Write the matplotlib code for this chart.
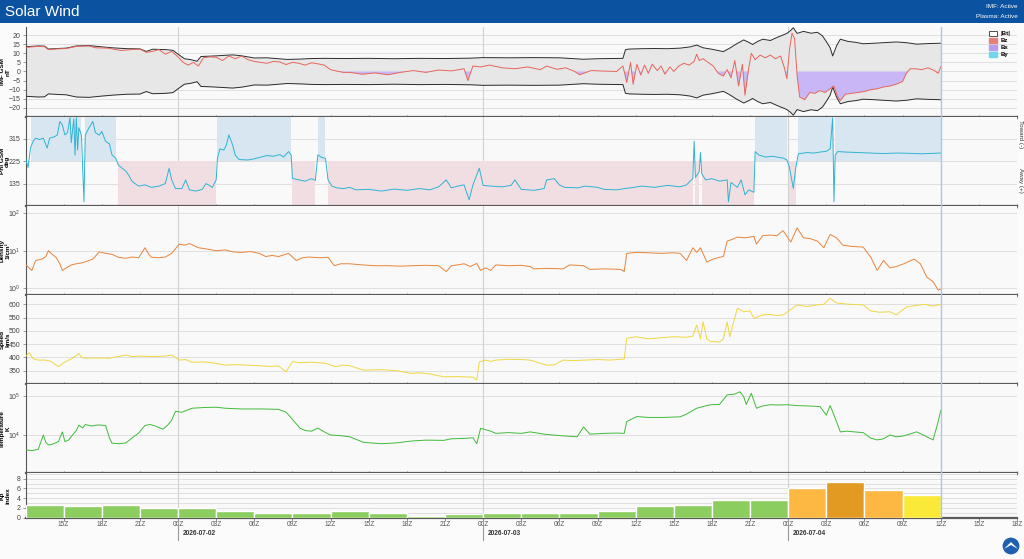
import numpy as np
import matplotlib
matplotlib.use("Agg")
import matplotlib.pyplot as plt
from matplotlib.patches import Patch, Rectangle, Circle, Polygon
from matplotlib.ticker import FixedLocator, NullLocator, LogFormatterMathtext
import matplotlib.transforms as mtransforms

plt.rcParams['font.family'] = ['Liberation Sans', 'DejaVu Sans']

# ---------------- data (hours since 2026-07-01 12Z) ----------------
bt_hours = [0.0, 1.0, 1.5, 1.8, 2.5, 3.2, 4.0, 5.0, 6.0, 7.0, 8.0, 9.0, 9.5, 10.0, 11.0, 11.6,
            12.0, 12.5, 13.0, 13.5, 13.8, 14.8, 16.3, 17.0, 18.0, 19.0, 20.6, 21.6, 22.5, 23.6,
            25.0, 27.0, 29.0, 31.0, 33.0, 35.0, 36.0, 38.0, 40.0, 42.0, 43.9, 45.0, 46.0, 47.0,
            47.2, 47.5, 48.5, 49.5, 50.5, 51.5, 52.3, 52.8, 53.3, 54.0, 54.9, 55.4, 55.9, 56.5,
            56.9, 57.2, 57.6, 58.0, 58.6, 59.1, 59.6, 59.9, 60.2, 60.4, 60.7, 61.2, 61.8, 62.3,
            62.7, 63.0, 63.3, 63.5, 63.8, 64.1, 64.7, 65.3, 65.9, 66.8, 67.5, 68.5, 69.3, 70.1,
            71.0, 72.0]
bt = [13.6, 14.0, 13.9, 12.3, 12.6, 12.8, 14.0, 14.2, 13.5, 12.9, 12.5, 12.4, 11.0, 12.2, 12.0, 11.6,
      9.5, 7.0, 6.5, 5.6, 8.2, 8.5, 9.1, 8.6, 7.4, 7.5, 6.6, 6.8, 7.1, 7.2,
      7.1, 7.2, 7.0, 7.2, 7.1, 7.3, 7.6, 7.5, 7.6, 7.5, 6.7, 7.0, 7.1, 7.2,
      12.0, 12.3, 12.5, 12.6, 12.5, 12.8, 13.5, 14.5, 13.0, 12.2, 10.9, 12.8, 15.0, 17.3,
      16.0, 14.8, 16.5, 17.7, 17.0, 18.6, 20.0, 20.9, 22.5, 24.0, 20.9, 22.0, 21.0, 21.5,
      19.5, 16.4, 13.0, 8.5, 14.0, 17.7, 16.5, 16.0, 15.2, 15.5, 15.8, 16.2, 15.8, 15.0,
      15.3, 15.5]

bz_hours = [0.0, 0.5, 1.0, 1.5, 1.8, 2.5, 3.2, 4.0, 5.0, 5.5, 6.5, 7.5, 8.5, 9.0, 9.5, 10.0,
            10.5, 11.0, 11.5, 12.0, 12.4, 12.8, 13.2, 13.6, 14.0, 14.5, 15.0, 15.5, 16.0, 16.5,
            17.0, 17.5, 18.0, 18.5, 19.0, 19.5, 20.0, 20.5, 21.0, 21.5, 22.0, 22.5, 23.0, 23.5,
            24.0, 24.5, 25.0, 25.5, 26.5, 27.5, 28.5, 29.5, 30.5, 31.5, 32.5, 33.5, 34.5, 34.8,
            35.2, 35.8, 36.5, 37.5, 38.5, 39.5, 40.5, 41.0, 41.8, 42.5, 43.2, 43.6, 44.5, 45.5,
            46.5, 47.0, 47.3, 47.6, 47.8, 48.1, 48.4, 48.7, 49.0, 49.3, 49.7, 50.0, 50.3, 50.7,
            51.0, 51.4, 51.8, 52.2, 52.6, 52.8, 53.0, 53.3, 53.7, 54.1, 54.5, 54.9, 55.2, 55.5,
            55.8, 56.1, 56.4, 56.6, 56.9, 57.1, 57.4, 57.8, 58.2, 58.6, 59.0, 59.4, 59.7, 59.9,
            60.1, 60.3, 60.5, 60.7, 60.9, 61.3, 61.7, 62.1, 62.5, 62.9, 63.3, 63.6, 63.9, 64.1,
            64.5, 65.0, 65.5, 66.0, 66.5, 67.0, 67.5, 68.0, 68.5, 69.0, 69.3, 69.6, 70.0, 70.5,
            71.0, 71.5, 71.8, 72.0]
bz = [13.2, 13.5, 13.8, 13.6, 12.0, 12.4, 12.6, 13.8, 14.0, 13.0, 12.8, 11.5, 12.1, 12.3, 10.5, 11.0,
      12.0, 9.5, 11.0, 8.0, 5.0, 3.5, 5.0, 3.0, 7.5, 8.0, 7.8, 6.0, 8.5, 7.0,
      8.5, 6.5, 5.5, 5.0, 4.5, 5.5, 5.2, 3.8, 5.0, 4.5, 3.5, 4.8, 4.2, 3.5,
      1.0, 0.2, -0.5, -0.5, -1.5, -0.8, -1.8, -0.5, 0.5, -0.5, 0.8, 0.3, 1.5, -5.0,
      3.0, 2.5, 3.5, 2.0, 1.5, 2.5, 1.0, 3.0, 1.2, 2.0, 0.0, -1.8, 0.5, 0.2,
      0.0, 3.0, -6.0, 5.0, -7.0, 4.0, -2.0, 3.5, -1.0, 4.0, 0.5, 3.0, -1.5, 2.5,
      0.0, 3.0, 4.5, 3.5, 5.5, 9.5, 6.0, 7.0, 5.0, 3.0, -1.0, -2.5, 1.0, -3.5,
      6.0, -8.0, 4.0, -13.0, 2.0, 10.0, 6.5, 9.0, 7.5, 9.0, 7.0, 8.5, 2.0, -4.0,
      12.0, 21.0, 18.0, -2.0, -14.0, -15.5, -11.5, -12.0, -10.5, -11.5, -9.5, -8.0, -14.0, -16.0,
      -12.5, -12.0, -11.5, -11.0, -10.0, -9.5, -8.5, -8.0, -7.0, -5.5, -1.0, 1.5, 1.5, 1.0,
      2.0, 0.5, -1.0, 2.5]

phi_hours = [0.0, 0.2, 0.4, 0.6, 0.8, 1.1, 1.4, 1.7, 1.9, 2.2, 2.5, 2.7, 2.9, 3.1, 3.3, 3.5,
             3.6, 3.8, 3.9, 4.0, 4.1, 4.2, 4.4, 4.6, 4.7, 5.0, 5.3, 5.5, 5.8, 6.0, 6.3, 6.6,
             6.8, 7.1, 7.3, 7.6, 7.9, 8.1, 8.4, 8.9, 9.4, 9.9, 10.5, 11.0, 11.3, 11.5, 11.8, 12.3,
             12.6, 12.9, 13.4, 13.9, 14.2, 14.4, 14.7, 15.0, 15.1, 15.3, 15.6, 15.8, 16.0, 16.3,
             16.5, 16.8, 17.5, 18.0, 18.4, 19.0, 19.5, 20.0, 20.3, 20.7, 20.9, 21.0, 21.5, 22.0,
             22.5, 22.8, 23.0, 23.3, 23.6, 23.8, 24.1, 24.5, 25.0, 25.5, 26.0, 27.0, 28.0, 29.0,
             30.0, 31.0, 31.8, 32.5, 33.1, 33.5, 34.0, 34.5, 34.9, 35.2, 35.7, 36.0, 36.6, 37.5,
             38.2, 38.5, 39.0, 40.0, 40.8, 41.0, 41.6, 42.0, 42.4, 43.5, 44.0, 45.0, 45.5, 46.5,
             47.1, 47.6, 48.5, 49.5, 50.5, 51.5, 52.0, 52.5, 52.6, 52.7, 53.0, 53.1, 53.2, 53.5,
             54.0, 54.6, 55.2, 55.3, 55.5, 56.0, 56.3, 56.6, 56.9, 57.3, 57.4, 57.7, 58.2, 58.8,
             59.3, 59.6, 59.9, 60.1, 60.4, 60.6, 60.8, 61.5, 62.0, 62.5, 63.0, 63.3, 63.5, 63.6,
             63.7, 63.9, 64.5, 65.5, 66.5, 67.5, 68.5, 69.5, 70.5, 71.5, 72.0]
phi = [237, 200, 280, 305, 318, 312, 318, 278, 318, 322, 330, 385, 371, 331, 340, 400,
       300, 395, 250, 400, 270, 360, 330, 62, 330, 360, 385, 340, 330, 345, 305, 295,
       251, 237, 210, 197, 185, 170, 143, 125, 130, 120, 125, 135, 197, 150, 115, 115,
       150, 110, 105, 112, 135, 130, 120, 150, 237, 275, 270, 290, 331, 290,
       250, 232, 230, 235, 240, 248, 245, 252, 242, 264, 250, 156, 150, 145,
       155, 148, 251, 240, 237, 150, 125, 118, 115, 120, 110, 112, 105, 113,
       108, 115, 110, 122, 150, 118, 125, 130, 70, 130, 197, 128, 125, 122,
       128, 150, 112, 108, 115, 150, 155, 130, 120, 118, 125, 120, 112, 110,
       115, 118, 125, 120, 128, 122, 130, 156, 305, 160, 183, 260, 175, 150,
       155, 145, 150, 62, 140, 120, 150, 90, 110, 100, 264, 250, 242, 245,
       240, 238, 230, 200, 116, 200, 255, 260, 258, 262, 265, 275, 400, 62,
       250, 264, 262, 260, 258, 256, 258, 257, 255, 257, 258]

dens_hours = [0.0, 0.5, 0.8, 1.3, 1.6, 1.8, 2.1, 2.4, 2.7, 2.9, 3.2, 3.6, 4.0, 4.5, 5.0, 5.3,
              5.8, 6.3, 6.8, 7.3, 7.9, 8.4, 8.9, 9.4, 9.7, 9.9, 10.5, 11.0, 11.5, 12.1, 12.5, 12.9,
              13.6, 14.3, 15.0, 15.7, 16.3, 17.0, 17.7, 18.4, 18.9, 19.4, 19.9, 20.7, 21.3, 21.8,
              22.3, 23.1, 23.8, 24.3, 24.8, 25.5, 26.5, 27.5, 28.5, 29.5, 30.5, 31.5, 32.5, 33.1,
              33.5, 34.0, 34.5, 35.0, 35.5, 35.8, 36.2, 36.6, 37.0, 38.0, 39.0, 39.7, 40.0, 41.0,
              42.3, 42.8, 43.9, 44.4, 45.5, 46.8, 47.1, 47.3, 48.0, 49.0, 50.0, 51.0, 51.5, 52.0,
              52.5, 52.8, 53.1, 53.3, 53.6, 54.1, 54.6, 54.9, 55.2, 55.6, 56.0, 56.6, 57.3, 57.5,
              58.0, 58.6, 59.1, 59.6, 60.2, 60.7, 61.2, 61.7, 62.3, 62.8, 63.3, 63.8, 64.3, 65.0,
              65.9, 66.5, 67.0, 67.5, 68.0, 68.5, 69.1, 69.9, 70.4, 70.9, 71.4, 71.8, 72.0]
dens = [4.3, 3.0, 5.5, 6.0, 7.0, 10.0, 8.0, 6.7, 4.5, 3.0, 3.5, 4.2, 4.5, 4.8, 5.5, 6.0,
        9.3, 8.5, 8.0, 6.7, 6.3, 6.8, 6.5, 12.0, 8.0, 6.7, 6.5, 6.8, 8.5, 15.0, 14.0, 15.5,
        12.0, 11.0, 10.0, 10.5, 9.3, 9.0, 9.5, 8.5, 7.0, 7.5, 7.0, 8.5, 5.5, 6.5,
        6.8, 6.5, 6.7, 4.0, 4.5, 4.5, 4.2, 4.0, 4.0, 3.9, 4.0, 4.1, 4.0, 2.8,
        4.0, 4.2, 4.5, 3.8, 4.6, 3.0, 3.5, 3.0, 4.2, 4.0, 4.1, 3.8, 3.3, 3.4,
        3.3, 4.2, 4.0, 3.2, 3.3, 3.2, 2.8, 8.5, 9.0, 8.8, 8.5, 8.8, 8.5, 5.5,
        12.0, 9.0, 12.0, 8.5, 5.0, 6.0, 6.7, 7.0, 18.0, 20.0, 23.0, 22.0, 24.0, 15.0,
        25.0, 26.0, 25.0, 34.0, 17.0, 40.0, 22.0, 21.0, 18.0, 12.0, 27.0, 22.0, 14.0, 13.0,
        12.5, 6.7, 3.0, 5.5, 3.5, 3.8, 4.5, 6.0, 4.5, 2.0, 1.5, 0.9, 0.95]

spd_hours = [0.0, 0.3, 0.6, 1.0, 1.6, 2.0, 2.6, 3.0, 3.7, 4.2, 4.4, 4.7, 5.5, 6.6, 7.9, 8.4,
             9.0, 10.0, 11.0, 11.5, 12.1, 12.6, 13.1, 14.0, 14.7, 15.7, 16.5, 17.8, 18.4, 19.2,
             19.9, 20.5, 21.0, 21.6, 22.5, 23.6, 24.4, 25.0, 25.5, 26.6, 28.0, 29.2, 30.3, 31.0,
             31.8, 32.9, 34.0, 35.2, 35.5, 35.7, 36.2, 36.6, 37.0, 38.0, 39.0, 39.7, 40.5, 41.0,
             41.6, 42.3, 43.0, 44.0, 45.0, 46.0, 47.1, 47.3, 48.0, 49.0, 50.0, 51.0, 52.0, 52.5,
             52.8, 53.1, 53.3, 53.6, 53.9, 54.6, 54.9, 55.2, 55.4, 56.0, 56.5, 57.0, 57.3, 58.0,
             58.6, 59.1, 59.6, 60.2, 60.7, 61.5, 62.3, 62.8, 63.3, 63.8, 64.8, 65.9, 66.5, 67.2,
             68.0, 68.5, 69.3, 70.0, 70.7, 71.4, 72.0]
spd = [403, 418, 395, 390, 390, 385, 365, 380, 397, 415, 400, 397, 398, 397, 409, 403,
       405, 403, 405, 409, 390, 392, 382, 383, 380, 371, 373, 370, 369, 366,
       368, 346, 384, 380, 382, 378, 365, 371, 369, 352, 354, 350, 340, 342,
       338, 327, 328, 326, 315, 383, 390, 385, 390, 393, 392, 390, 378, 371,
       372, 390, 388, 390, 392, 390, 394, 472, 478, 470, 474, 478, 476, 480,
       522, 470, 534, 470, 460, 458, 470, 534, 478, 585, 572, 575, 547, 560,
       562, 558, 560, 580, 597, 592, 598, 600, 623, 605, 600, 598, 575, 570,
       572, 560, 590, 595, 600, 593, 600]

temp_hours = [0.0, 0.5, 1.0, 1.4, 1.6, 1.8, 2.1, 2.6, 2.9, 3.1, 3.4, 3.7, 4.0, 4.2, 4.5, 4.7,
              5.2, 5.7, 6.3, 6.6, 6.8, 7.4, 7.9, 8.4, 8.9, 9.4, 9.8, 10.2, 10.8, 11.2, 11.5, 11.8,
              12.3, 13.1, 14.0, 15.0, 15.7, 17.0, 18.5, 19.9, 20.5, 21.0, 21.6, 22.0, 22.5, 23.0,
              23.5, 24.0, 24.8, 25.5, 26.6, 28.0, 29.2, 30.3, 31.5, 32.9, 33.5, 34.5, 35.2, 35.5,
              35.8, 36.6, 37.0, 38.0, 39.0, 39.7, 40.8, 41.5, 42.3, 43.4, 43.9, 44.4, 45.5, 46.5,
              47.1, 47.3, 48.1, 49.0, 50.2, 51.5, 52.0, 52.8, 53.5, 53.9, 54.6, 55.2, 55.8, 56.2,
              56.5, 56.7, 57.1, 57.5, 58.0, 58.6, 59.3, 59.9, 60.7, 61.5, 62.5, 63.0, 63.3, 63.8,
              64.1, 64.6, 65.2, 65.9, 66.5, 67.0, 67.5, 68.0, 68.5, 69.1, 70.1, 70.5, 70.9, 71.4,
              71.8, 72.0]
temp = [4200, 4000, 4300, 10000, 6500, 5600, 5800, 6800, 12000, 6800, 7500, 10000, 13000, 17800, 15000, 18500,
        17000, 18000, 17500, 8500, 6200, 6000, 6300, 8500, 11200, 17500, 18500, 17000, 14000, 18000, 24000, 40000,
        38000, 48000, 50000, 51000, 48000, 46000, 46000, 45000, 38000, 25000, 14800, 13000, 12500, 15000,
        12000, 10000, 9600, 9000, 6500, 6000, 6300, 7000, 7400, 7300, 8000, 8200, 8500, 6000,
        14800, 12500, 11000, 11500, 11000, 12000, 10500, 10000, 9500, 9000, 16000, 10500, 11000, 11200,
        11000, 22000, 29500, 28000, 28000, 29000, 34000, 48000, 55000, 59000, 60000, 105000, 110000, 126000,
        95000, 60000, 115000, 48000, 55000, 59000, 58000, 59000, 56000, 55000, 53000, 32000, 56000, 22000,
        12000, 12500, 12000, 11500, 8300, 7500, 8000, 10000, 9000, 9500, 12000, 10500, 9000, 7500,
        22000, 42000]

kp_start_hours = [0, 3, 6, 9, 12, 15, 18, 21, 24, 27, 30, 33, 36, 39, 42, 45, 48, 51, 54, 57, 60, 63, 66, 69]
kp = [2.67, 2.33, 2.67, 2.0, 2.0, 1.33, 1.0, 1.0, 1.33, 1.0, 0.33, 0.67, 1.0, 1.0, 1.0, 1.33,
      2.33, 2.67, 3.67, 3.67, 6.0, 7.33, 5.67, 4.67]

tick_hours = list(range(3, 79, 3))
tick_labels = ["15Z", "18Z", "21Z", "00Z", "03Z", "06Z", "09Z", "12Z", "15Z", "18Z", "21Z",
               "00Z", "03Z", "06Z", "09Z", "12Z", "15Z", "18Z", "21Z",
               "00Z", "03Z", "06Z", "09Z", "12Z", "15Z", "18Z"]
date_hours = [12, 36, 60]
date_labels = ["2026-07-02", "2026-07-03", "2026-07-04"]
now_hour = 72

# ---------------- figure ----------------
W, H = 1024, 559
fig = plt.figure(figsize=(W / 100, H / 100), dpi=100, facecolor='#fbfbfb')

def frac_rect(top_px, bot_px):
    left = 25.5 / W
    width = 991.5 / W
    return [left, 1 - bot_px / H, width, (bot_px - top_px) / H]

panels_px = [(27, 116.5), (116.5, 206), (206, 295), (295, 384), (384, 473.3), (473.3, 517.5)]
axes = [fig.add_axes(frac_rect(*p)) for p in panels_px]

GRID = '#dadada'
for ax in axes:
    ax.set_facecolor('#f9f9f9')
    ax.set_xlim(0, 78)
    for s in ['top', 'right']:
        ax.spines[s].set_visible(False)
    ax.spines['left'].set_color('#555555')
    ax.spines['left'].set_linewidth(0.8)
    ax.spines['bottom'].set_color('#5a5a5a')
    ax.spines['bottom'].set_linewidth(1.6)
    ax.xaxis.set_major_locator(FixedLocator(tick_hours))
    ax.tick_params(axis='x', direction='inout', length=3, width=0.6, color='#777777', labelbottom=False)
    ax.tick_params(axis='y', length=2, width=0.5, color='#777777', labelsize=5, labelcolor='#444444', pad=1.5)
    ax.grid(axis='y', color=GRID, lw=0.6)
    ax.set_axisbelow(True)
    for d in date_hours:
        ax.axvline(d, color='#d2d2d2', lw=0.8, zorder=1)
    ax.axvline(now_hour, color='#a8c8e2', lw=1.0, zorder=5)

def ylab(ax, txt):
    ax.set_ylabel(txt, fontsize=4.6, fontweight='bold', linespacing=1.1)
    ax.yaxis.set_label_coords(-0.0155, 0.5)

# ---- IMF panel ----
ax = axes[0]
bt_h = np.array(bt_hours); bt_v = np.array(bt)
bz_h = np.array(bz_hours); bz_v = np.array(bz)
ax.fill_between(bt_h, -bt_v, bt_v, color='#e7e7e7', lw=0, zorder=1.5)
ax.fill_between(bz_h, bz_v, 0, where=bz_v < 0, interpolate=True, color='#c8b6f6', lw=0, zorder=2)
ax.plot(bt_h, bt_v, color='#2b2b2b', lw=0.7, zorder=3)
ax.plot(bt_h, -bt_v, color='#2b2b2b', lw=0.7, zorder=3)
ax.plot(bz_h, bz_v, color='#e8655a', lw=0.7, zorder=4)
ax.set_ylim(-24.7, 24.4)
ax.set_yticks(np.arange(-20, 21, 5))
ylab(ax, "IMF GSM\nnT")
handles = [Patch(facecolor='white', edgecolor='#333333', lw=0.6, label='|Bt|'),
           Patch(facecolor='#e8807a', edgecolor='#e8807a', label='Bz'),
           Patch(facecolor='#b79cf0', edgecolor='#b79cf0', label='Bx'),
           Patch(facecolor='#6fd6ee', edgecolor='#6fd6ee', label='By')]
leg = ax.legend(handles=handles, loc='upper left', bbox_to_anchor=(0.968, 1.0), fontsize=4.3,
                frameon=False, handlelength=1.3, handleheight=0.9, labelspacing=0.25,
                handletextpad=0.6, borderaxespad=0.2)
for t in leg.get_texts():
    t.set_fontweight('bold')

# ---- Phi panel ----
ax = axes[1]
ph_h = np.array(phi_hours); ph_v = np.array(phi, dtype=float)
ax.fill_between(ph_h, 225, 405, where=ph_v >= 225, step='post', color='#d7e6f1', lw=0, zorder=1.2)
ax.fill_between(ph_h, 45, 225, where=ph_v < 225, step='post', color='#f0dee3', lw=0, zorder=1.2)
ax.plot(ph_h, ph_v, color='#2fb3d3', lw=0.7, zorder=4)
ax.set_ylim(45, 405)
ax.set_yticks([135, 225, 315])
ylab(ax, "Phi GSM\ndeg")

# ---- Density ----
ax = axes[2]
ax.plot(dens_hours, dens, color='#e8843a', lw=0.7, zorder=4)
ax.set_yscale('log')
ax.set_ylim(10 ** -0.175, 10 ** 2.186)
ax.yaxis.set_major_locator(FixedLocator([1, 10, 100]))
ax.yaxis.set_major_formatter(LogFormatterMathtext())
ax.yaxis.set_minor_locator(NullLocator())
ylab(ax, "Density\n1/cm³")

# ---- Speed ----
ax = axes[3]
ax.plot(spd_hours, spd, color='#f0d742', lw=0.7, zorder=4)
ax.set_ylim(300, 635)
ax.set_yticks(np.arange(350, 601, 50))
ylab(ax, "Speed\nkm/s")

# ---- Temperature ----
ax = axes[4]
ax.plot(temp_hours, temp, color='#3fbb3a', lw=0.7, zorder=4)
ax.set_yscale('log')
ax.set_ylim(1060, 198600)
ax.yaxis.set_major_locator(FixedLocator([1e4, 1e5]))
ax.yaxis.set_major_formatter(LogFormatterMathtext())
ax.yaxis.set_minor_locator(NullLocator())
ylab(ax, "Temperature\nK")

# ---- Kp ----
ax = axes[5]
def kp_color(v):
    if v >= 7:
        return '#e29a22'
    if v >= 5:
        return '#fdb843'
    if v >= 4:
        return '#fbe93a'
    return '#8bcd5f'
ax.bar(np.array(kp_start_hours) + 1.5, kp, width=3, color=[kp_color(v) for v in kp],
       edgecolor='white', linewidth=1.0, zorder=3)
ax.set_ylim(0, 9.1)
ax.set_yticks([0, 2, 4, 6, 8])
ax.yaxis.set_minor_locator(FixedLocator([1, 3, 5, 7, 9]))
ax.grid(axis='y', which='minor', color=GRID, lw=0.6)
ax.tick_params(axis='y', which='minor', length=0)
ylab(ax, "Kp\nindex")
ax.tick_params(axis='x', direction='out', length=2, labelbottom=True, labelsize=4.7,
               labelcolor='#555555', pad=0.8)
ax.set_xticklabels(tick_labels)
trans = mtransforms.blended_transform_factory(ax.transData, ax.transAxes)
for d, lab in zip(date_hours, date_labels):
    ax.plot([d, d], [-0.03, -0.52], transform=trans, color='#999999', lw=0.8, clip_on=False)
    ax.text(d + 0.35, -0.36, lab, transform=trans, fontsize=4.7, fontweight='bold',
            color='#333333', ha='left', va='center')

# ---- right side labels ----
fig.text(1020 / W, 1 - 134 / H, "Toward (-)", rotation=-90, fontsize=4.5, ha='center', va='center', color='#333333')
fig.text(1020 / W, 1 - 180 / H, "Away (+)", rotation=-90, fontsize=4.5, ha='center', va='center', color='#333333')

# ---- header ----
fig.patches.append(Rectangle((0, 1 - 23 / H), 1, 23 / H, transform=fig.transFigure,
                             facecolor='#0b52a0', edgecolor='none', zorder=0))
fig.text(5 / W, 1 - 12 / H, "Solar Wind", color='white', fontsize=11, ha='left', va='center')
fig.text(1018 / W, 1 - 7 / H, "IMF: Active", color='white', fontsize=4.6, ha='right', va='center')
fig.text(1018 / W, 1 - 17 / H, "Plasma: Active", color='white', fontsize=4.6, ha='right', va='center')

# ---- small logo (display pixels, origin bottom-left) ----
fig.patches.append(Circle((1011, H - 546), 9, transform=None, facecolor='#1f5fb0', edgecolor='white', lw=0.8))
fig.patches.append(Polygon([[1004, H - 549], [1011, H - 542], [1018, H - 549], [1011, H - 545]], closed=True,
                           transform=None, facecolor='white', edgecolor='none'))

fig.savefig("out.png", dpi=100, facecolor=fig.get_facecolor())
